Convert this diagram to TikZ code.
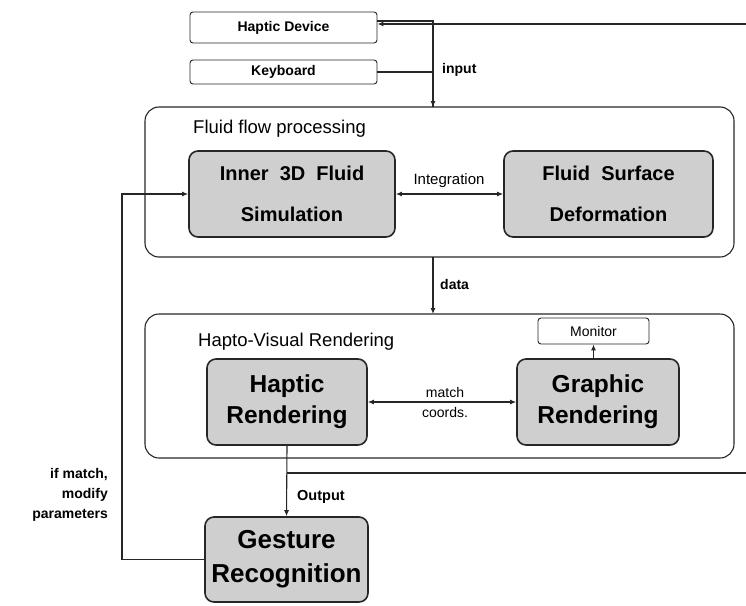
\documentclass[tikz,border=0pt]{standalone}
\usepackage{fontspec}
\setmainfont{Liberation Sans}
\usetikzlibrary{arrows.meta,calc}
\begin{document}
\begin{tikzpicture}[x=1pt,y=-1pt,
  gbox/.style={draw=black!85, line width=1.6pt, rounded corners=9pt, fill=gray!38, align=center, inner sep=0pt},
  wbox/.style={draw=black!85, line width=0.9pt, rounded corners=3pt, fill=white, align=center, inner sep=0pt},
  region/.style={draw=black!85, line width=1.1pt, rounded corners=14pt},
  conn/.style={draw=black!85, line width=1.1pt},
  arr/.style={conn, -{Latex[length=6pt,width=5pt]}},
  darr/.style={conn, {Latex[length=6pt,width=5pt]}-{Latex[length=6pt,width=5pt]}},
  lab/.style={font=\fontsize{14}{16}\selectfont, inner sep=0pt},
  blab/.style={font=\bfseries\fontsize{14}{16}\selectfont, inner sep=0pt},
  ttl/.style={font=\fontsize{18.5}{20}\selectfont, inner sep=0pt, anchor=west}
]
\useasboundingbox (0,0) rectangle (746,605);
% regions
\draw[region] (145,107) rectangle (734,257);
\draw[region] (145,314) rectangle (734,458);
\node[ttl] (t1) at (193,129) {Fluid flow processing};
\node[ttl] (t2) at (198,342) {Hapto-Visual Rendering};
% top input boxes
\node[wbox, minimum width=187pt, minimum height=31pt, font=\bfseries\fontsize{14}{16}\selectfont] (hd) at (283.5,27.5) {Haptic Device};
\node[wbox, minimum width=187pt, minimum height=24pt, font=\bfseries\fontsize{14}{16}\selectfont] (kb) at (283.5,72) {Keyboard};
% fluid boxes
\node[gbox, minimum width=206pt, minimum height=86pt, font=\bfseries\fontsize{20}{41}\selectfont] (inner) at (292,194) {Inner\ \ 3D\ \ Fluid\\Simulation};
\node[gbox, minimum width=209pt, minimum height=86pt, font=\bfseries\fontsize{20}{41}\selectfont] (surf) at (608.5,194) {Fluid\ \ Surface\\Deformation};
% rendering boxes
\node[gbox, minimum width=160pt, minimum height=86pt, font=\bfseries\fontsize{24.5}{31}\selectfont] (hr) at (287,402) {Haptic\\Rendering};
\node[gbox, minimum width=162pt, minimum height=86pt, font=\bfseries\fontsize{24.5}{31}\selectfont] (gr) at (598,402) {Graphic\\Rendering};
\node[wbox, minimum width=111pt, minimum height=26pt, font=\fontsize{14}{16}\selectfont] (mon) at (593.5,331) {Monitor};
% gesture
\node[gbox, minimum width=163pt, minimum height=85pt, font=\bfseries\fontsize{26}{34}\selectfont] (ges) at (286.5,559.5) {Gesture\\Recognition};
% coordinates
\coordinate (hdin) at (746,24);
\coordinate (fbtop) at (433,107);
\coordinate (fbbot) at (433,257);
\coordinate (hvtop) at (433,314);
\coordinate (fbk) at (746,473);
\coordinate (lpl) at (122,0);
% connectors
\draw[arr] (hdin) -- (hd.east |- hdin);
\draw[conn] ([yshift=6.5pt]hd.east) -| (fbtop);
\draw[arr] (fbtop |- kb.east) -- (fbtop);
\draw[conn] (kb.east) -- (fbtop |- kb.east);
\node[blab, anchor=west] (inp) at (442,70) {input};
\draw[darr] (inner.east) -- (surf.west);
\node[lab, anchor=south, font=\fontsize{15}{17}\selectfont] (integ) at (449,188) {Integration};
\draw[arr] (fbbot) -- (hvtop);
\node[blab, anchor=west] (dat) at (440,284) {data};
\draw[arr] (gr.north -| mon.south) -- (mon.south);
\draw[darr] (hr.east) -- (gr.west);
\node[lab, align=center, font=\fontsize{14}{20}\selectfont] (mc) at (445,402) {match\\coords.};
\draw[arr] (hr.south) -- (ges.north);
\draw[conn] (hr.south |- fbk) -- (fbk);
\node[blab, anchor=west, font=\bfseries\fontsize{14.5}{16}\selectfont] (outp) at (297,497) {Output};
\draw[arr] (ges.west) -| (lpl |- inner.west) -- (inner.west);
\node[blab, anchor=east, align=right, font=\bfseries\fontsize{14}{20}\selectfont] (ifm) at (108,495) {if match,\\modify\\parameters};
\end{tikzpicture}
\end{document}
